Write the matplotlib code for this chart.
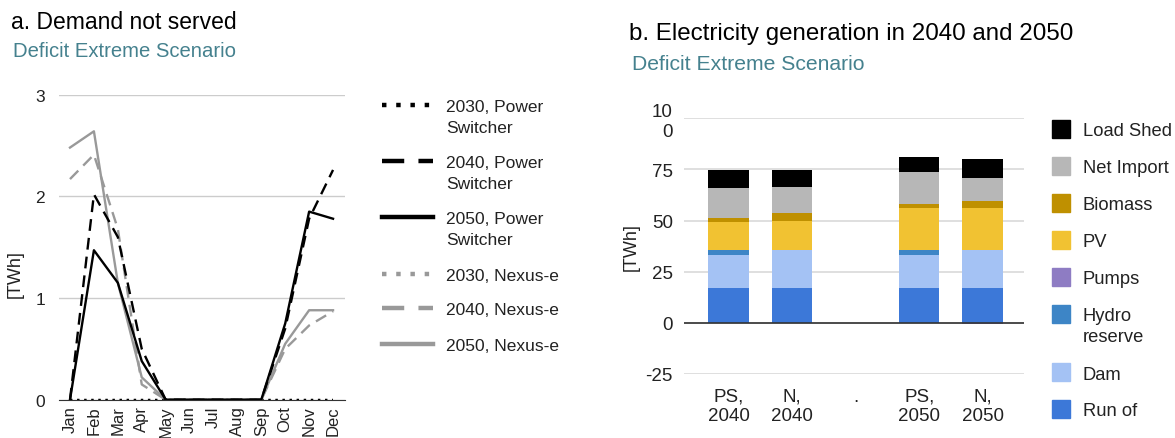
import matplotlib.pyplot as plt
from matplotlib.lines import Line2D
from matplotlib.patches import Rectangle
import numpy as np

plt.rcParams['font.family'] = ['Liberation Sans', 'DejaVu Sans']

# --- data: a. demand not served [TWh] ---
months = ['Jan', 'Feb', 'Mar', 'Apr', 'May', 'Jun', 'Jul', 'Aug', 'Sep', 'Oct', 'Nov', 'Dec']
ps_2030 = [0, 0, 0, 0, 0, 0, 0, 0, 0, 0, 0, 0]
ps_2040 = [0, 2.02, 1.6, 0.5, 0, 0, 0, 0, 0, 0.7, 1.78, 2.26]
ps_2050 = [0, 1.47, 1.15, 0.38, 0, 0, 0, 0, 0, 0.75, 1.85, 1.78]
nx_2030 = [0, 0, 0, 0, 0, 0, 0, 0, 0, 0, 0, 0]
nx_2040 = [2.17, 2.41, 1.68, 0.15, 0, 0, 0, 0, 0, 0.5, 0.73, 0.87]
nx_2050 = [2.48, 2.64, 1.15, 0.22, 0, 0, 0, 0, 0, 0.55, 0.88, 0.88]

# --- data: b. electricity generation [TWh] ---
cases = ['PS,\n2040', 'N,\n2040', '.', 'PS,\n2050', 'N,\n2050']
run_of = [17.0, 17.0, 0, 17.0, 17.0]
dam = [16.4, 18.6, 0, 16.4, 18.6]
hydro_reserve = [2.2, 0, 0, 2.2, 0]
pumps = [0, 0, 0, 0, -0.4]
pv = [13.5, 14.3, 0, 20.4, 20.4]
biomass = [2.3, 3.6, 0, 2.1, 3.5]
net_import = [14.3, 12.9, 0, 15.8, 11.3]
load_shed = [9.0, 8.3, 0, 7.4, 9.1]

teal = '#45818e'
txt = '#222222'

fig = plt.figure(figsize=(11.75, 4.39), dpi=100)

def fx(px):
    return px / 1175

def fy(py):
    return 1 - py / 439

# ---------------- left chart ----------------
ax1 = fig.add_axes([fx(59), fy(400.7), fx(286), 305 / 439])
x = np.arange(len(months))
lw = 1.7
ax1.plot(x, nx_2030, color='#999999', lw=lw, ls=(0, (1, 2)), zorder=3)
ax1.plot(x, ps_2030, color='black', lw=lw, ls=(0, (1, 2)), zorder=3)
ax1.plot(x, nx_2040, color='#999999', lw=lw, ls=(0, (5, 3)), zorder=3)
ax1.plot(x, nx_2050, color='#999999', lw=lw, zorder=3)
ax1.plot(x, ps_2040, color='black', lw=lw, ls=(0, (5, 3)), zorder=4)
ax1.plot(x, ps_2050, color='black', lw=lw, zorder=4)
ax1.set_xlim(-0.46, 11.5)
ax1.set_ylim(0, 3)
ax1.set_yticks([0, 1, 2, 3])
ax1.set_xticks(x)
ax1.set_xticklabels(months, rotation=90, fontsize=12, color=txt)
ax1.tick_params(axis='both', length=0, pad=4, labelcolor=txt)
ax1.tick_params(axis='y', labelsize=12.5, pad=10)
ax1.grid(axis='y', color='#cccccc', lw=1)
ax1.set_axisbelow(True)
for s in ['top', 'right', 'left']:
    ax1.spines[s].set_visible(False)
ax1.spines['bottom'].set_color('#333333')
ax1.spines['bottom'].set_zorder(5)
ax1.set_ylabel('[TWh]', fontsize=13, color=txt)
ax1.yaxis.set_label_coords(-0.122, 0.415)
ax1.patch.set_visible(False)

fig.text(fx(11), fy(29), 'a. Demand not served', fontsize=16.5, color='black', va='baseline')
fig.text(fx(13), fy(57), 'Deficit Extreme Scenario', fontsize=14.6, color=teal, va='baseline')

# manual legend for left chart
leg_items = [
    (['2030, Power', 'Switcher'], 'black', (0, (1, 2.2)), 106),
    (['2040, Power', 'Switcher'], 'black', (0, (5, 3.2)), 162),
    (['2050, Power', 'Switcher'], 'black', '-', 218),
    (['2030, Nexus-e'], '#999999', (0, (1, 2.2)), 275),
    (['2040, Nexus-e'], '#999999', (0, (5, 3.2)), 309),
    (['2050, Nexus-e'], '#999999', '-', 345),
]
for lines, col, ls, py in leg_items:
    fig.add_artist(Line2D([fx(382), fx(433)], [fy(py), fy(py)], color=col, lw=3.2,
                          ls=ls, transform=fig.transFigure, dash_capstyle='butt'))
    for i, line in enumerate(lines):
        fig.text(fx(446), fy(py + 21 * i), line, fontsize=12.5, color=txt, va='center_baseline')

# ---------------- right chart ----------------
ax2 = fig.add_axes([fx(684), fy(375), fx(340), 255.7 / 439])
xb = np.arange(len(cases))
w = 0.64
layers = [
    ('Run of', run_of, '#3c78d8'),
    ('Dam', dam, '#a4c2f4'),
    ('Hydro\nreserve', hydro_reserve, '#3d85c6'),
    ('PV', pv, '#f1c232'),
    ('Biomass', biomass, '#bf9000'),
    ('Net Import', net_import, '#b7b7b7'),
    ('Load Shed', load_shed, '#000000'),
]
bottom = np.zeros(len(cases))
for name, vals, col in layers:
    vals = np.array(vals, dtype=float)
    ax2.bar(xb, vals, w, bottom=bottom, color=col, zorder=3)
    bottom += vals
ax2.bar(xb, pumps, w, color='#8e7cc3', zorder=3)

ax2.set_xlim(-0.7, 4.65)
ax2.set_ylim(-25, 100)
ax2.set_yticks([-25, 0, 25, 50, 75, 100])
ax2.set_yticklabels(['-25', '0', '25', '50', '75', '10\n0'])
ax2.set_xticks(xb)
ax2.set_xticklabels(cases, fontsize=13.5, color=txt, linespacing=1.15)
ax2.tick_params(axis='both', length=0, labelcolor=txt)
ax2.tick_params(axis='y', labelsize=13.5, pad=8)
ax2.tick_params(axis='x', pad=10)
for lab in ax2.get_yticklabels():
    lab.set_multialignment('right')
    lab.set_linespacing(1.2)
ax2.grid(axis='y', color='#d9d9d9', lw=1.2)
ax2.axhline(0, color='#333333', lw=1.2, zorder=4)
ax2.set_axisbelow(True)
for s in ax2.spines.values():
    s.set_visible(False)
ax2.set_ylabel('[TWh]', fontsize=13, color=txt, labelpad=4)

fig.text(fx(629), fy(40), 'b. Electricity generation in 2040 and 2050', fontsize=17.4,
         color='black', va='baseline')
fig.text(fx(632), fy(70.5), 'Deficit Extreme Scenario', fontsize=15.2, color=teal, va='baseline')

# legend for right chart
leg2 = [
    (['Load Shed'], '#000000', 130),
    (['Net Import'], '#b7b7b7', 167),
    (['Biomass'], '#bf9000', 204),
    (['PV'], '#f1c232', 241),
    (['Pumps'], '#8e7cc3', 278),
    (['Hydro', 'reserve'], '#3d85c6', 315),
    (['Dam'], '#a4c2f4', 373),
    (['Run of'], '#3c78d8', 410),
]
for lines, col, py in leg2:
    fig.add_artist(Rectangle((fx(1052), fy(py + 9)), fx(18), 18 / 439, color=col,
                             transform=fig.transFigure))
    for i, line in enumerate(lines):
        fig.text(fx(1083), fy(py + 21 * i), line, fontsize=13.2, color=txt, va='center_baseline')

fig.savefig('out.png', dpi=100)
